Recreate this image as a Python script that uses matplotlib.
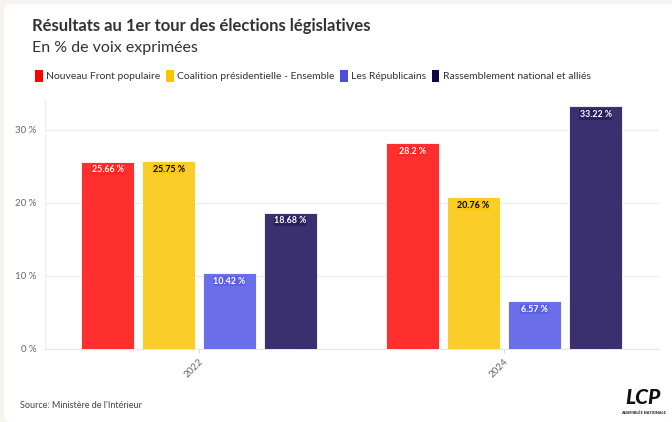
import matplotlib
matplotlib.use("Agg")
import matplotlib.pyplot as plt
import numpy as np
from matplotlib.patches import FancyBboxPatch, Patch

plt.rcParams['font.family'] = ['Lato', 'DejaVu Sans']

# data
years = ['2022', '2024']
parties = ['Nouveau Front populaire', 'Coalition présidentielle - Ensemble',
           'Les Républicains', 'Rassemblement national et alliés']
nfp = [25.66, 28.2]
ens = [25.75, 20.76]
lr = [10.42, 6.57]
rn = [18.68, 33.22]
y_ticks = [0, 10, 20, 30]
y_labels = ['0 %', '10 %', '20 %', '30 %']

colors = ['#ff2f2f', '#fbcd28', '#6a6ee8', '#3a3070']
text_colors = ['white', 'black', 'white', 'white']
box_colors = ['#ff1f1f', '#f8c400', '#5558e6', '#1c1456']

fig = plt.figure(figsize=(6.72, 4.22), dpi=100)
fig.patch.set_facecolor('#f7f3ee')
card = FancyBboxPatch((4 / 672, 0), 1.0, 1 - 4 / 422,
                      boxstyle='round,pad=0,rounding_size=0.012',
                      transform=fig.transFigure, facecolor='white',
                      edgecolor='none', zorder=-5)
fig.patches.append(card)

ax = fig.add_axes([45 / 672, 1 - 349 / 422, 614 / 672, 249 / 422])
ax.set_facecolor('none')
ax.set_zorder(2)

x = np.arange(len(years))
step = 0.2
width = 0.176
series = [nfp, ens, lr, rn]
for i, vals in enumerate(series):
    pos = x + (i - 1.5) * step
    ax.bar(pos, vals, width, color=colors[i],
           edgecolor='white', linewidth=0.6, zorder=3)
    for px, v in zip(pos, vals):
        lbl = ('%g' % v) + ' %'
        ax.text(px, v - 0.5, lbl, ha='center', va='top', fontsize=6.4,
                fontweight='bold', color=text_colors[i], zorder=4,
                bbox=dict(boxstyle='square,pad=0.08', facecolor=box_colors[i],
                          edgecolor='none', alpha=0.55))

ax.set_xlim(-0.505, 1.508)
ax.set_ylim(0, 34.1)
ax.set_yticks(y_ticks)
ax.set_yticklabels(y_labels)
ax.set_xticks(x)
ax.set_xticklabels(years, rotation=45, ha='right', rotation_mode='anchor')
ax.tick_params(axis='y', length=0, labelsize=7, labelcolor='#666666', pad=6)
ax.tick_params(axis='x', length=3, color='#dddddd', labelsize=7,
               labelcolor='#666666', pad=3)
ax.grid(axis='y', color='#ececec', linewidth=1, zorder=0)
for s in ['top', 'right']:
    ax.spines[s].set_visible(False)
ax.spines['left'].set_color('#eeeeee')
ax.spines['bottom'].set_color('#e6e6e6')

fig.text(32 / 672, 1 - 26 / 422, 'Résultats au 1er tour des élections législatives',
         fontsize=12, fontweight='bold', color='#333333', va='center')
fig.text(32 / 672, 1 - 48 / 422, 'En % de voix exprimées',
         fontsize=11.5, color='#333333', va='center')

handles = [Patch(facecolor=c, edgecolor='none') for c in ['#ff0000', '#ffc300', '#4a4fe0', '#0b0646']]
fig.legend(handles, parties, loc='center left', bbox_to_anchor=(26 / 672, 1 - 76 / 422),
           ncol=4, frameon=False, fontsize=7.5, handlelength=0.7, handleheight=1.3,
           handletextpad=0.3, columnspacing=0.6, labelcolor='#333333')

fig.text(20 / 672, 1 - 405 / 422, "Source: Ministère de l'Intérieur",
         fontsize=6.5, color='#444444', va='center')
fig.text(643 / 672, 1 - 398 / 422, 'LCP', fontsize=15, fontweight='black',
         style='italic', color='#111111', ha='center', va='center')
fig.text(643 / 672, 1 - 413 / 422, 'ASSEMBLÉE NATIONALE', fontsize=2.8,
         fontweight='bold', color='#111111', ha='center', va='center')

fig.savefig('out.png', dpi=100, facecolor=fig.get_facecolor())
